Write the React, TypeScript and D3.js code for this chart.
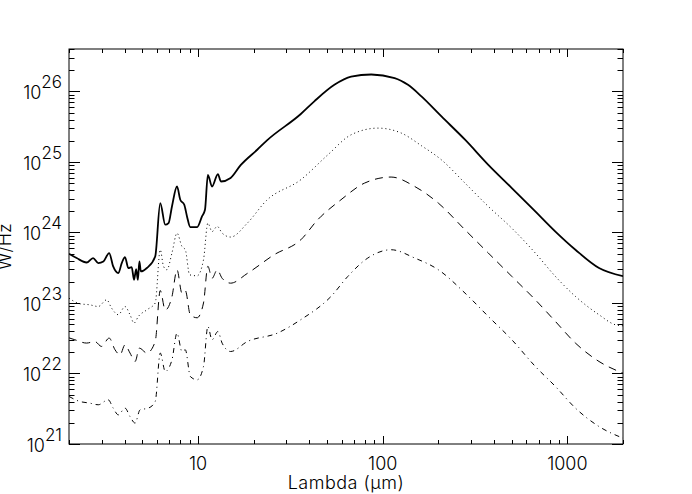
import React from 'react';
import * as d3 from 'd3';

// ── Data (wavelength in µm, flux in W/Hz) ─────────────────────────────────────
const solidLambda = [2.0, 2.2, 2.49, 2.7, 2.88, 3.07, 3.3, 3.47, 3.7, 3.86, 4.02, 4.19, 4.37, 4.5, 4.62, 4.72, 4.81, 4.9, 5.28, 5.86, 6.24, 6.64, 6.92, 7.22, 7.69, 8.01, 8.42, 8.71, 9.08, 9.88, 10.5, 10.9, 11.3, 11.9, 12.8, 13.3, 15.0, 17.0, 20.9, 23.7, 36, 42.6, 54.7, 67.4, 86.7, 116, 137, 162, 208, 279, 373, 500, 670, 861, 1105, 1483, 2000];
const solidFlux = [5.0e23, 4.34e23, 3.75e23, 4.34e23, 3.68e23, 3.88e23, 5.1e23, 3.3e23, 2.65e23, 3.68e23, 4.48e23, 3.13e23, 3.23e23, 2.13e23, 3.03e23, 2.13e23, 3.88e23, 2.8e23, 3.13e23, 4.57e23, 2.61e24, 1.29e24, 1.36e24, 2.34e24, 4.49e24, 2.91e24, 2.47e24, 1.69e24, 1.19e24, 1.19e24, 1.69e24, 2.1e24, 6.58e24, 4.49e24, 6.73e24, 5.28e24, 5.92e24, 9.0e24, 1.49e25, 2.04e25, 4.79e25, 7.24e25, 1.24e26, 1.62e26, 1.74e26, 1.55e26, 1.24e26, 8.51e25, 4.42e25, 2.07e25, 9.12e24, 4.27e24, 1.99e24, 1.03e24, 5.69e23, 3.13e23, 2.4e23];

const dottedLambda = [2.0, 2.29, 2.59, 2.88, 3.2, 3.4, 3.7, 4.02, 4.28, 4.5, 4.75, 5.28, 5.86, 6.24, 6.5, 6.78, 7.22, 7.69, 8.18, 8.53, 9.0, 9.88, 10.7, 11.3, 11.9, 12.7, 13.5, 15.0, 18.5, 23.4, 36, 50.4, 67.4, 94.2, 126, 162, 208, 279, 373, 500, 670, 861, 1105, 1483, 1824, 2000];
const dottedFlux = [1.17e23, 9.75e22, 9.42e22, 8.91e22, 1.11e23, 8.47e22, 6.81e22, 8.91e22, 6.81e22, 5.19e22, 6.44e22, 8.0e22, 9.98e22, 5.69e23, 3.3e23, 2.96e23, 5.11e23, 9.79e23, 6.32e23, 5.69e23, 2.51e23, 2.43e23, 4.1e23, 1.36e24, 1.03e24, 1.22e24, 9.79e23, 8.61e23, 1.36e24, 2.82e24, 5.6e24, 1.26e25, 2.43e25, 3.02e25, 2.57e25, 1.7e25, 1.07e25, 5.01e24, 2.34e24, 1.15e24, 5.11e23, 2.38e23, 1.24e23, 6.81e22, 4.9e22, 4.75e22];

const dashedLambda = [2.0, 2.15, 2.49, 2.76, 3.0, 3.3, 3.55, 3.78, 4.02, 4.28, 4.56, 4.81, 5.28, 5.86, 6.24, 6.64, 7.22, 7.69, 8.18, 8.53, 9.08, 9.88, 10.7, 11.3, 11.9, 12.7, 13.5, 15.0, 18.5, 25.8, 36, 44.4, 59.4, 79.6, 111, 149, 200, 279, 373, 500, 670, 861, 1105, 1483, 2000];
const dashedFlux = [3.2e22, 3.01e22, 2.7e22, 2.84e22, 2.42e22, 3.18e22, 2.17e22, 1.84e22, 2.55e22, 1.95e22, 1.48e22, 2.29e22, 1.95e22, 2.84e22, 1.5e23, 7.94e22, 1.23e23, 2.95e23, 1.38e23, 1.5e23, 6.76e22, 6.17e22, 1.0e23, 3.31e23, 2.24e23, 2.95e23, 2.24e23, 1.91e23, 2.63e23, 4.83e23, 7.87e23, 1.51e24, 2.91e24, 5.01e24, 6.11e24, 4.49e24, 2.61e24, 1.09e24, 5.11e23, 2.38e23, 1.11e23, 5.47e22, 2.7e22, 1.48e22, 1.01e22];

const dashDotLambda = [2.0, 2.29, 2.59, 2.88, 3.26, 3.47, 3.7, 4.02, 4.28, 4.56, 4.85, 5.38, 5.86, 6.24, 6.64, 7.22, 7.69, 8.18, 8.53, 9.08, 9.88, 10.7, 11.3, 11.9, 12.8, 13.5, 15.0, 18.5, 26.9, 36, 52.5, 64.7, 83.0, 111, 149, 200, 279, 373, 500, 670, 861, 1105, 1483, 2000];
const dashDotFlux = [4.72e21, 4.01e21, 3.8e21, 3.6e21, 4.24e21, 3.23e21, 2.59e21, 3.23e21, 2.45e21, 1.98e21, 3.05e21, 3.23e21, 4.01e21, 1.95e22, 1.07e22, 1.56e22, 3.74e22, 2.05e22, 2.17e22, 9.06e21, 8.13e21, 1.26e22, 4.65e22, 3.01e22, 3.94e22, 2.69e22, 2.05e22, 2.84e22, 3.74e22, 5.8e22, 1.24e23, 2.38e23, 4.34e23, 5.69e23, 4.34e23, 2.96e23, 1.38e23, 6.44e22, 3.01e22, 1.26e22, 6.55e21, 3.23e21, 1.77e21, 1.21e21];

const xDomain = [2, 2000];
const yDomain = [1e21, 4e26];
const xTickLabels = ['10', '100', '1000'];

// ── Layout ────────────────────────────────────────────────────────────────────
const W = 692, H = 494;
const PLOT = { left: 69, right: 623, top: 49, bottom: 444 };
const FONT = "Inter, Roboto, 'Liberation Sans', sans-serif";
const FONT_WEIGHT = 300;

const series = [
  { lambda: solidLambda, flux: solidFlux, width: 1.8, dash: 'none' },
  { lambda: dottedLambda, flux: dottedFlux, width: 1, dash: '1,3' },
  { lambda: dashedLambda, flux: dashedFlux, width: 1, dash: '8,6' },
  { lambda: dashDotLambda, flux: dashDotFlux, width: 1, dash: '5,4,1,4' },
];

const isDecade = (v: number) => Math.abs(Math.log10(v) - Math.round(Math.log10(v))) < 1e-6;

export default function App() {
  const x = d3.scaleLog().domain(xDomain).range([PLOT.left, PLOT.right]);
  const y = d3.scaleLog().domain(yDomain).range([PLOT.bottom, PLOT.top]);

  const line = d3.line<[number, number]>()
    .x(d => x(d[0]))
    .y(d => y(d[1]))
    .curve(d3.curveMonotoneX);

  const xTicks = x.ticks();
  const yTicks = y.ticks();

  return (
    <div style={{ position: 'absolute', left: 0, top: 0 }}>
      <svg width={W} height={H} style={{ display: 'block', background: '#fff' }}>
        <defs>
          <clipPath id="plot-clip">
            <rect x={PLOT.left} y={PLOT.top} width={PLOT.right - PLOT.left} height={PLOT.bottom - PLOT.top} />
          </clipPath>
        </defs>

        {/* curves */}
        <g clipPath="url(#plot-clip)" fill="none" stroke="#000">
          {series.map((s, i) => (
            <path
              key={i}
              d={line(s.lambda.map((l, k) => [l, s.flux[k]] as [number, number])) || ''}
              strokeWidth={s.width}
              strokeDasharray={s.dash}
              strokeLinejoin="round"
            />
          ))}
        </g>

        {/* frame */}
        <rect x={PLOT.left} y={PLOT.top} width={PLOT.right - PLOT.left} height={PLOT.bottom - PLOT.top}
          fill="none" stroke="#000" strokeWidth={1} />

        {/* ticks on all four sides */}
        <g stroke="#000" strokeWidth={1}>
          {xTicks.map((t, i) => {
            const len = isDecade(t) ? 8 : 4;
            const px = Math.round(x(t)) + 0.5;
            return (
              <g key={i}>
                <line x1={px} x2={px} y1={PLOT.bottom} y2={PLOT.bottom - len} />
                <line x1={px} x2={px} y1={PLOT.top} y2={PLOT.top + len} />
              </g>
            );
          })}
          {yTicks.map((t, i) => {
            const len = isDecade(t) ? 11 : 5.5;
            const py = Math.round(y(t)) + 0.5;
            return (
              <g key={i}>
                <line x1={PLOT.left} x2={PLOT.left + len} y1={py} y2={py} />
                <line x1={PLOT.right} x2={PLOT.right - len} y1={py} y2={py} />
              </g>
            );
          })}
        </g>

        {/* x tick labels */}
        <g fontFamily={FONT} fontWeight={FONT_WEIGHT} fontSize={18} fill="#000" textAnchor="middle">
          {xTicks.filter(isDecade).map((t, i) => (
            <text key={i} x={x(t)} y={470}>{xTickLabels[i]}</text>
          ))}
        </g>

        {/* y tick labels */}
        <g fontFamily={FONT} fontWeight={FONT_WEIGHT} fontSize={18} fill="#000" textAnchor="end">
          {yTicks.filter(isDecade).map((t, i) => (
            <text key={i} x={62} y={y(t) + 8}>
              10<tspan dy={-11} fontSize={17}>{Math.round(Math.log10(t))}</tspan>
            </text>
          ))}
        </g>

        {/* axis titles */}
        <text x={(PLOT.left + PLOT.right) / 2} y={489} textAnchor="middle" letterSpacing={0.5}
          fontFamily={FONT} fontWeight={FONT_WEIGHT} fontSize={18} fill="#000">Lambda (μm)</text>
        <text transform={`translate(11,${(PLOT.top + PLOT.bottom) / 2}) rotate(-90)`} textAnchor="middle"
          fontFamily={FONT} fontWeight={FONT_WEIGHT} fontSize={18} fill="#000">W/Hz</text>
      </svg>
    </div>
  );
}
